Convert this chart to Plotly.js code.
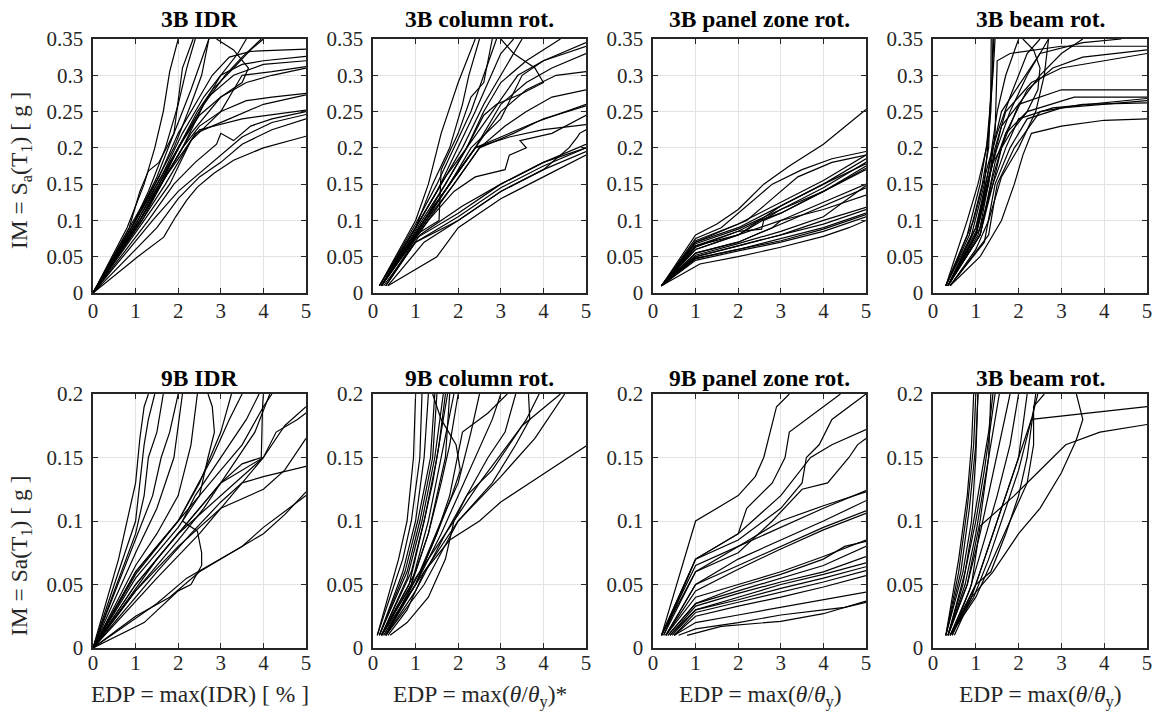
<!DOCTYPE html>
<html>
<head>
<meta charset="utf-8">
<script src="https://cdn.plot.ly/plotly-3.0.1.min.js"></script>
<style>
html,body{margin:0;padding:0;background:#fff;overflow:hidden;}
#plot{width:1157px;height:722px;}
</style>
</head>
<body>
<div id="plot"></div>
<script>
// ---------- DATA ----------
const panelTitles = ["3B IDR","3B column rot.","3B panel zone rot.","3B beam rot.",
                     "9B IDR","9B column rot.","9B panel zone rot.","3B beam rot."];
const xLabels = ["EDP = max(IDR) [ % ]",
                 "EDP = max(<i>θ</i>/<i>θ</i><sub>y</sub>)*",
                 "EDP = max(<i>θ</i>/<i>θ</i><sub>y</sub>)",
                 "EDP = max(<i>θ</i>/<i>θ</i><sub>y</sub>)"];
const yLabels = ["IM = S<sub>a</sub>(T<sub>1</sub>) [ g ]", "IM = Sa(T<sub>1</sub>) [ g ]"];
const xTickVals = [0,1,2,3,4,5];
const yRangeTop = [0,0.35];
const yRangeBottom = [0,0.2];

// 3B IDR  (each curve: [EDP, IM] points)
const idr3B = [
 [[0,0],[0.8,0.09],[1.2,0.15],[1.45,0.2],[1.65,0.25],[1.8,0.305],[2.0,0.35]],
 [[0,0],[0.85,0.09],[1.1,0.14],[1.3,0.168],[1.55,0.18],[1.9,0.22],[2.1,0.31],[2.35,0.35]],
 [[0,0],[0.9,0.09],[1.3,0.14],[1.7,0.2],[2.0,0.26],[2.2,0.31],[2.4,0.35]],
 [[0,0],[1.0,0.1],[1.5,0.16],[1.9,0.22],[2.3,0.28],[2.6,0.33],[2.72,0.35]],
 [[0,0],[0.95,0.1],[1.45,0.15],[1.9,0.2],[2.3,0.26],[2.55,0.3],[2.72,0.35]],
 [[0,0],[1.1,0.1],[1.6,0.15],[2.0,0.2],[2.5,0.245],[3.0,0.27],[3.5,0.29],[3.65,0.31],[3.3,0.335],[2.9,0.35]],
 [[0,0],[1.05,0.1],[1.55,0.15],[2.0,0.2],[2.5,0.25],[3.0,0.3],[3.4,0.33],[3.6,0.35]],
 [[0,0],[1.1,0.1],[1.6,0.15],[2.1,0.2],[2.6,0.26],[3.1,0.3],[3.5,0.325],[3.95,0.35]],
 [[0,0],[1.0,0.1],[1.5,0.15],[2.0,0.2],[2.45,0.25],[2.8,0.28],[3.3,0.31],[3.7,0.335],[4.0,0.35]],
 [[0,0],[1.0,0.1],[1.55,0.16],[2.0,0.22],[2.5,0.27],[2.8,0.3],[3.2,0.325],[3.7,0.333],[5,0.336]],
 [[0,0],[1.05,0.1],[1.6,0.16],[2.1,0.22],[2.6,0.27],[3.0,0.3],[3.5,0.315],[4.0,0.32],[5,0.326]],
 [[0,0],[1.1,0.1],[1.65,0.16],[2.2,0.22],[2.7,0.27],[3.3,0.3],[4.0,0.315],[5,0.32]],
 [[0,0],[1.1,0.1],[1.7,0.16],[2.3,0.22],[3.0,0.27],[3.6,0.29],[4.2,0.3],[5,0.31]],
 [[0,0],[1.15,0.1],[1.7,0.16],[2.3,0.21],[3.0,0.25],[3.5,0.3],[4.2,0.305],[5,0.312]],
 [[0,0],[1.1,0.1],[1.6,0.15],[2.1,0.2],[2.5,0.23],[3.0,0.25],[3.6,0.265],[4.2,0.27],[5,0.275]],
 [[0,0],[1.15,0.1],[1.7,0.15],[2.2,0.2],[2.4,0.22],[3.2,0.24],[4.0,0.26],[5,0.273]],
 [[0,0],[1.2,0.1],[1.8,0.15],[2.3,0.21],[2.5,0.225],[3.5,0.24],[5,0.252]],
 [[0,0],[1.3,0.1],[1.9,0.15],[2.4,0.18],[2.9,0.205],[3.0,0.22],[3.3,0.21],[3.7,0.23],[4.2,0.24],[5,0.25]],
 [[0,0],[1.4,0.1],[2.0,0.14],[2.5,0.165],[3.0,0.19],[3.5,0.215],[4.2,0.235],[5,0.246]],
 [[0,0],[1.5,0.09],[2.0,0.13],[2.5,0.16],[3.0,0.18],[3.5,0.205],[4.2,0.225],[5,0.24]],
 [[0,0],[1.05,0.05],[1.66,0.077],[1.94,0.105],[2.2,0.128],[2.45,0.146],[2.84,0.165],[3.3,0.183],[4.0,0.2],[5,0.216]]
];

// 3B column rotation
const col3B = [
 [[0.15,0.01],[1.0,0.1],[1.3,0.15],[1.6,0.22],[2.0,0.29],[2.4,0.35]],
 [[0.15,0.01],[1.0,0.09],[1.4,0.15],[1.8,0.2],[2.1,0.26],[2.25,0.3],[2.45,0.34],[2.5,0.35]],
 [[0.15,0.01],[1.0,0.095],[1.5,0.15],[1.9,0.2],[2.3,0.25],[2.6,0.3],[2.9,0.35]],
 [[0.15,0.01],[1.0,0.09],[1.5,0.14],[2.0,0.2],[2.4,0.25],[2.7,0.29],[3.0,0.33],[3.3,0.35]],
 [[0.2,0.01],[1.1,0.1],[1.6,0.15],[2.1,0.2],[2.6,0.26],[3.0,0.3],[3.3,0.33],[3.5,0.35]],
 [[0.2,0.01],[1.1,0.1],[1.7,0.16],[2.2,0.2],[2.6,0.245],[2.9,0.26],[3.5,0.275],[4.0,0.29],[3.8,0.31],[3.3,0.33],[3.0,0.35]],
 [[0.2,0.01],[1.2,0.1],[1.7,0.15],[2.2,0.2],[2.6,0.25],[3.0,0.29],[3.6,0.32],[4.4,0.35]],
 [[0.2,0.01],[1.2,0.1],[1.8,0.15],[2.3,0.2],[3.0,0.24],[3.5,0.3],[4.0,0.32],[5,0.345]],
 [[0.2,0.01],[1.15,0.1],[1.7,0.15],[2.2,0.2],[2.8,0.25],[3.4,0.3],[4.0,0.32],[5,0.34]],
 [[0.2,0.01],[1.2,0.1],[1.8,0.15],[2.4,0.2],[3.0,0.26],[3.6,0.29],[4.2,0.31],[5,0.33]],
 [[0.2,0.01],[1.2,0.1],[1.8,0.15],[2.4,0.2],[3.0,0.25],[3.6,0.28],[4.3,0.3],[5,0.305]],
 [[0.2,0.01],[1.25,0.1],[1.9,0.15],[2.5,0.2],[3.1,0.23],[3.6,0.25],[4.2,0.27],[5,0.28]],
 [[0.2,0.01],[1.3,0.1],[1.9,0.15],[2.5,0.2],[3.3,0.22],[4.0,0.24],[5,0.258]],
 [[0.2,0.01],[1.2,0.1],[1.8,0.15],[2.4,0.2],[3.0,0.215],[3.8,0.235],[5,0.26]],
 [[0.2,0.01],[1.25,0.1],[1.9,0.16],[2.4,0.2],[3.2,0.215],[4.0,0.225],[5,0.232]],
 [[0.2,0.01],[1.3,0.1],[1.9,0.14],[2.4,0.16],[3.1,0.17],[3.2,0.19],[3.6,0.2],[3.45,0.21],[4.2,0.22],[5,0.245]],
 [[0.25,0.01],[1.0,0.07],[2.0,0.1],[3.0,0.14],[4.0,0.17],[4.6,0.2],[4.8,0.215],[4.85,0.22],[5,0.225]],
 [[0.3,0.01],[1.0,0.075],[2.0,0.11],[3.0,0.15],[4.0,0.18],[5,0.205]],
 [[0.3,0.01],[1.0,0.07],[2.0,0.105],[3.0,0.145],[4.0,0.175],[5,0.2]],
 [[0.35,0.01],[1.2,0.07],[2.0,0.1],[3.0,0.14],[4.0,0.17],[5,0.195]],
 [[0.35,0.01],[1.5,0.05],[2.0,0.09],[3.0,0.13],[4.0,0.16],[5,0.19]],
 [[0.3,0.01],[1.1,0.08],[2.1,0.12],[3.0,0.15],[4.0,0.18],[5,0.2]],
 [[0.2,0.01],[1.0,0.08],[1.55,0.1],[1.6,0.17],[2.0,0.22],[2.3,0.27],[2.6,0.29],[2.8,0.35]]
];

// 3B panel zone rotation
const pz3B = [
 [[0.2,0.01],[1.0,0.08],[1.5,0.095],[2.0,0.115],[2.6,0.15],[3.2,0.175],[4.0,0.205],[5,0.253]],
 [[0.2,0.01],[1.0,0.075],[1.6,0.09],[2.2,0.12],[2.8,0.15],[3.5,0.17],[4.2,0.185],[5,0.195]],
 [[0.2,0.01],[1.0,0.07],[1.6,0.085],[2.2,0.1],[2.8,0.13],[3.4,0.16],[4.2,0.18],[5,0.19]],
 [[0.2,0.01],[1.0,0.07],[2.0,0.09],[3.0,0.12],[4.0,0.15],[5,0.185]],
 [[0.2,0.01],[1.0,0.068],[2.0,0.088],[3.0,0.115],[4.0,0.145],[5,0.18]],
 [[0.2,0.01],[1.0,0.065],[2.0,0.085],[2.5,0.1],[3.0,0.12],[4.0,0.15],[5,0.178]],
 [[0.2,0.01],[1.0,0.065],[2.0,0.08],[3.0,0.115],[4.0,0.14],[5,0.175]],
 [[0.2,0.01],[1.0,0.06],[2.0,0.08],[2.5,0.1],[3.0,0.11],[4.0,0.14],[5,0.172]],
 [[0.2,0.01],[1.0,0.063],[2.0,0.085],[2.55,0.088],[2.6,0.1],[3.0,0.11],[4.0,0.14],[5,0.17]],
 [[0.2,0.01],[1.0,0.072],[2.0,0.095],[3.0,0.125],[4.0,0.155],[5,0.19]],
 [[0.2,0.01],[1.0,0.06],[2.0,0.08],[3.0,0.1],[4.0,0.125],[5,0.15]],
 [[0.2,0.01],[1.0,0.055],[2.0,0.07],[3.0,0.095],[4.0,0.12],[5,0.145]],
 [[0.2,0.01],[1.0,0.055],[2.0,0.07],[2.8,0.09],[3.0,0.1],[4.0,0.115],[5,0.135]],
 [[0.2,0.01],[1.0,0.052],[2.0,0.068],[3.0,0.085],[4.0,0.105],[5,0.148]],
 [[0.2,0.01],[1.0,0.05],[2.0,0.065],[3.0,0.08],[4.0,0.1],[5,0.118]],
 [[0.2,0.01],[1.0,0.05],[2.0,0.065],[3.0,0.08],[4.0,0.095],[5,0.115]],
 [[0.2,0.01],[1.0,0.048],[2.0,0.06],[3.0,0.075],[4.0,0.09],[5,0.11]],
 [[0.2,0.01],[1.0,0.047],[2.0,0.06],[3.0,0.072],[4.0,0.088],[5,0.108]],
 [[0.2,0.01],[1.0,0.045],[2.0,0.058],[3.0,0.07],[4.0,0.085],[5,0.105]],
 [[0.2,0.01],[1.1,0.04],[2.0,0.05],[3.0,0.063],[4.0,0.078],[4.6,0.09],[5,0.1]]
];

// 3B beam rotation
const beam3B = [
 [[0.3,0.01],[0.8,0.08],[1.1,0.15],[1.3,0.22],[1.38,0.3],[1.4,0.35]],
 [[0.3,0.01],[0.85,0.08],[1.15,0.15],[1.3,0.2],[1.35,0.28],[1.36,0.35]],
 [[0.3,0.01],[0.9,0.08],[1.2,0.15],[1.35,0.25],[1.42,0.35]],
 [[0.3,0.01],[0.8,0.1],[1.05,0.15],[1.25,0.2],[1.4,0.3],[1.45,0.35]],
 [[0.35,0.01],[1.0,0.08],[1.3,0.15],[1.45,0.22],[1.5,0.32],[1.8,0.33],[3.0,0.34],[5,0.34]],
 [[0.35,0.01],[1.0,0.09],[1.3,0.17],[1.5,0.25],[1.7,0.3],[2.0,0.35]],
 [[0.3,0.01],[0.95,0.1],[1.3,0.18],[1.5,0.22],[1.8,0.27],[2.2,0.33],[2.5,0.35]],
 [[0.35,0.01],[1.0,0.09],[1.4,0.18],[1.8,0.22],[2.2,0.25],[2.45,0.28],[2.5,0.31],[2.35,0.335],[2.1,0.35]],
 [[0.35,0.01],[1.0,0.08],[1.3,0.16],[1.5,0.2],[1.8,0.25],[2.2,0.3],[2.4,0.32],[2.7,0.35]],
 [[0.35,0.01],[1.05,0.08],[1.4,0.15],[1.6,0.2],[2.0,0.26],[2.5,0.3],[3.0,0.33],[3.5,0.35]],
 [[0.35,0.01],[1.0,0.08],[1.4,0.2],[1.6,0.25],[2.5,0.33],[3.5,0.345],[4.4,0.35]],
 [[0.35,0.01],[1.1,0.08],[1.4,0.16],[1.7,0.22],[2.2,0.28],[2.8,0.31],[3.5,0.325],[5,0.335]],
 [[0.35,0.01],[1.1,0.09],[1.45,0.2],[1.7,0.25],[2.3,0.29],[3.0,0.31],[4.0,0.32],[5,0.33]],
 [[0.35,0.01],[1.05,0.09],[1.4,0.18],[1.6,0.23],[2.0,0.26],[3.0,0.28],[5,0.28]],
 [[0.35,0.01],[1.1,0.08],[1.45,0.18],[1.7,0.22],[2.2,0.25],[3.3,0.27],[5,0.27]],
 [[0.35,0.01],[1.1,0.08],[1.4,0.15],[1.7,0.2],[2.0,0.24],[2.8,0.255],[5,0.268]],
 [[0.4,0.01],[1.2,0.07],[1.45,0.15],[1.8,0.2],[2.2,0.24],[3.0,0.255],[5,0.265]],
 [[0.4,0.01],[1.3,0.08],[1.5,0.15],[1.9,0.2],[2.5,0.25],[3.5,0.26],[5,0.262]],
 [[0.4,0.01],[1.1,0.05],[1.4,0.08],[1.6,0.1],[1.9,0.15],[2.1,0.19],[2.3,0.22],[3.0,0.23],[4.0,0.238],[5,0.24]],
 [[0.4,0.01],[1.0,0.06],[1.3,0.1],[1.6,0.16],[2.0,0.2],[2.4,0.25],[2.6,0.3],[2.7,0.35]]
];

// 9B IDR
const idr9B = [
 [[0,0],[0.6,0.07],[1.0,0.13],[1.1,0.165],[1.2,0.19],[1.3,0.2]],
 [[0,0],[1.0,0.1],[1.1,0.13],[1.2,0.16],[1.3,0.18],[1.45,0.2]],
 [[0,0],[1.0,0.09],[1.2,0.12],[1.3,0.15],[1.5,0.17],[1.65,0.2]],
 [[0,0],[1.0,0.085],[1.4,0.12],[1.6,0.15],[1.8,0.17],[2.0,0.2]],
 [[0,0],[1.0,0.075],[1.5,0.11],[1.9,0.15],[2.1,0.2]],
 [[0,0],[1.0,0.065],[1.5,0.09],[2.0,0.12],[2.3,0.16],[2.45,0.2]],
 [[0,0],[1.0,0.06],[2.0,0.1],[2.5,0.12],[2.7,0.15],[2.85,0.17],[2.8,0.19],[2.7,0.2]],
 [[0,0],[1.0,0.06],[2.0,0.1],[2.5,0.13],[3.0,0.17],[3.25,0.2]],
 [[0,0],[1.0,0.058],[2.0,0.1],[2.8,0.15],[3.2,0.18],[3.5,0.2]],
 [[0,0],[1.0,0.055],[2.0,0.095],[2.5,0.12],[3.0,0.14],[3.5,0.16],[4.0,0.19],[4.2,0.2]],
 [[0,0],[1.0,0.05],[2.0,0.09],[3.0,0.13],[3.8,0.17],[4.15,0.2]],
 [[0,0],[1.2,0.02],[2.0,0.045],[2.3,0.05],[2.55,0.065],[2.55,0.075],[2.45,0.092],[2.1,0.1],[2.4,0.12],[3.0,0.15],[3.6,0.18],[3.9,0.2]],
 [[0,0],[1.5,0.07],[2.5,0.11],[3.0,0.13],[3.5,0.145],[3.95,0.15],[3.98,0.19],[4.0,0.2]],
 [[0,0],[1.0,0.05],[2.0,0.09],[3.0,0.12],[4.0,0.15],[4.3,0.17],[4.8,0.18],[5,0.185]],
 [[0,0],[1.0,0.045],[2.0,0.08],[3.0,0.11],[4.0,0.15],[4.5,0.175],[5,0.19]],
 [[0,0],[1.5,0.055],[2.5,0.09],[3.0,0.11],[4.0,0.125],[4.5,0.14],[5,0.165]],
 [[0,0],[1.5,0.06],[2.3,0.09],[3.0,0.115],[3.5,0.13],[4.0,0.135],[5,0.143]],
 [[0,0],[1.0,0.025],[1.8,0.04],[2.5,0.06],[3.0,0.07],[4.0,0.09],[4.5,0.105],[5,0.123]],
 [[0,0],[1.5,0.035],[2.2,0.055],[3.0,0.07],[3.5,0.08],[4.0,0.095],[4.6,0.11],[5,0.12]],
 [[0,0],[1.0,0.045],[2.0,0.085],[2.6,0.11],[3.0,0.13],[3.5,0.14],[4.0,0.15]]
];

// 9B column rotation
const col9B = [
 [[0.1,0.01],[0.6,0.07],[0.8,0.1],[0.95,0.15],[1.0,0.2]],
 [[0.1,0.01],[0.7,0.07],[0.9,0.1],[1.1,0.15],[1.15,0.2]],
 [[0.15,0.01],[0.7,0.06],[1.0,0.1],[1.2,0.15],[1.3,0.2]],
 [[0.15,0.01],[0.75,0.06],[1.05,0.1],[1.35,0.15],[1.45,0.2]],
 [[0.15,0.01],[0.8,0.06],[1.1,0.1],[1.4,0.15],[1.5,0.2]],
 [[0.2,0.01],[0.8,0.055],[1.15,0.1],[1.45,0.15],[1.65,0.2]],
 [[0.2,0.01],[0.85,0.05],[1.2,0.1],[1.5,0.15],[1.75,0.2]],
 [[0.2,0.01],[0.9,0.05],[1.3,0.1],[1.6,0.15],[1.9,0.2]],
 [[0.2,0.01],[1.0,0.05],[1.5,0.09],[1.85,0.12],[2.05,0.14],[1.95,0.16],[1.6,0.18],[1.4,0.2]],
 [[0.2,0.01],[0.9,0.05],[1.3,0.09],[1.6,0.13],[1.8,0.16],[2.0,0.2]],
 [[0.25,0.01],[1.0,0.05],[1.5,0.09],[1.8,0.12],[2.1,0.17],[2.7,0.185],[3.15,0.2]],
 [[0.25,0.01],[1.0,0.05],[1.6,0.09],[2.0,0.12],[2.4,0.15],[2.8,0.18],[3.0,0.2]],
 [[0.3,0.01],[1.0,0.045],[1.7,0.09],[2.2,0.12],[2.7,0.15],[3.1,0.17],[3.35,0.2]],
 [[0.3,0.01],[1.2,0.05],[2.0,0.1],[2.8,0.13],[3.35,0.16],[3.68,0.18],[3.65,0.2]],
 [[0.3,0.01],[1.0,0.05],[2.0,0.1],[3.0,0.135],[3.8,0.165],[4.5,0.2]],
 [[0.3,0.01],[1.0,0.055],[1.7,0.09],[2.5,0.13],[3.5,0.175],[4.4,0.2]],
 [[0.35,0.01],[0.8,0.03],[1.2,0.06],[1.8,0.085],[2.5,0.1],[3.0,0.115],[4.0,0.137],[5,0.159]],
 [[0.4,0.01],[0.8,0.02],[1.3,0.04],[1.7,0.07],[1.9,0.1],[2.2,0.12],[2.8,0.14],[3.2,0.16],[3.6,0.18],[3.9,0.2]],
 [[0.2,0.01],[1.0,0.06],[1.3,0.09],[1.5,0.12],[1.7,0.15],[1.8,0.2]],
 [[0.2,0.01],[0.9,0.06],[1.2,0.1],[1.4,0.13],[1.55,0.16],[1.7,0.2]],
 [[0.3,0.01],[1.1,0.06],[1.6,0.1],[2.0,0.13],[2.3,0.17],[2.5,0.2]]
];

// 9B panel zone rotation
const pz9B = [
 [[0.2,0.01],[1.0,0.1],[2.0,0.12],[2.4,0.135],[2.6,0.15],[2.9,0.19],[3.2,0.2]],
 [[0.2,0.01],[1.0,0.07],[2.0,0.09],[2.2,0.11],[2.8,0.13],[3.1,0.15],[3.2,0.17],[3.6,0.18],[4.0,0.19],[4.4,0.2]],
 [[0.2,0.01],[1.0,0.07],[2.0,0.085],[3.0,0.11],[3.5,0.13],[3.6,0.15],[3.9,0.16],[4.2,0.18],[5,0.2]],
 [[0.2,0.01],[1.0,0.06],[2.0,0.075],[2.8,0.1],[3.5,0.125],[4.1,0.13],[4.6,0.15],[4.8,0.16],[5,0.165]],
 [[0.25,0.01],[1.0,0.07],[2.0,0.09],[3.0,0.12],[3.7,0.15],[4.2,0.16],[5,0.172]],
 [[0.25,0.01],[1.0,0.06],[2.0,0.08],[3.0,0.1],[4.0,0.112],[5,0.123]],
 [[0.3,0.01],[1.0,0.05],[2.0,0.07],[3.0,0.085],[4.0,0.1],[5,0.116]],
 [[0.3,0.01],[1.0,0.05],[2.0,0.065],[3.0,0.08],[4.0,0.095],[5,0.108]],
 [[0.3,0.01],[1.0,0.045],[2.0,0.062],[3.0,0.078],[4.0,0.093],[5,0.106]],
 [[0.3,0.01],[1.0,0.04],[2.0,0.05],[3.0,0.06],[4.0,0.072],[5,0.085]],
 [[0.35,0.01],[1.0,0.035],[2.0,0.048],[3.0,0.058],[4.0,0.07],[4.5,0.08],[5,0.084]],
 [[0.35,0.01],[1.0,0.035],[2.0,0.045],[3.0,0.055],[4.0,0.065],[5,0.08]],
 [[0.4,0.01],[1.0,0.033],[2.0,0.043],[3.0,0.052],[4.0,0.06],[5,0.072]],
 [[0.4,0.01],[1.0,0.03],[2.0,0.04],[3.0,0.05],[4.0,0.058],[5,0.067]],
 [[0.45,0.01],[1.0,0.03],[2.0,0.038],[3.0,0.047],[4.0,0.055],[5,0.064]],
 [[0.5,0.01],[1.0,0.028],[2.0,0.036],[3.0,0.044],[4.0,0.052],[5,0.061]],
 [[0.5,0.01],[1.0,0.025],[2.0,0.033],[3.0,0.04],[4.0,0.048],[5,0.057]],
 [[0.5,0.01],[1.0,0.02],[2.0,0.026],[3.0,0.032],[4.0,0.038],[5,0.044]],
 [[0.6,0.01],[1.0,0.015],[2.0,0.02],[3.0,0.026],[4.0,0.03],[4.5,0.032],[5,0.036]],
 [[0.8,0.01],[1.6,0.017],[3.0,0.021],[4.0,0.027],[5,0.037]],
 [[0.2,0.01],[1.0,0.065],[2.0,0.08],[3.0,0.095],[4.0,0.11],[5,0.124]]
];

// bottom-right panel beam rotation
const beam9B = [
 [[0.3,0.01],[0.6,0.07],[0.8,0.12],[0.9,0.16],[0.95,0.2]],
 [[0.3,0.01],[0.6,0.06],[0.8,0.11],[0.95,0.16],[1.0,0.2]],
 [[0.3,0.01],[0.65,0.06],[0.85,0.11],[1.0,0.16],[1.05,0.2]],
 [[0.3,0.01],[0.7,0.06],[0.9,0.1],[1.0,0.15],[1.05,0.2]],
 [[0.35,0.01],[0.7,0.05],[0.9,0.09],[1.1,0.13],[1.3,0.17],[1.4,0.2]],
 [[0.35,0.01],[0.75,0.05],[1.0,0.09],[1.2,0.13],[1.4,0.17],[1.55,0.2]],
 [[0.35,0.01],[0.8,0.05],[1.1,0.09],[1.35,0.13],[1.6,0.17],[1.8,0.2]],
 [[0.4,0.01],[0.85,0.045],[1.2,0.085],[1.5,0.12],[1.8,0.16],[2.0,0.2]],
 [[0.35,0.01],[0.8,0.05],[1.1,0.1],[1.3,0.15],[1.35,0.2]],
 [[0.4,0.01],[0.9,0.04],[1.2,0.07],[1.5,0.1],[1.7,0.12],[2.0,0.15],[2.2,0.2]],
 [[0.4,0.01],[0.95,0.04],[1.3,0.07],[1.6,0.1],[2.0,0.14],[2.3,0.18],[2.45,0.2]],
 [[0.4,0.01],[1.0,0.04],[1.4,0.07],[1.8,0.1],[2.2,0.13],[2.35,0.16],[2.35,0.19],[2.6,0.2]],
 [[0.4,0.01],[1.0,0.05],[1.4,0.09],[1.8,0.13],[2.1,0.16],[2.3,0.18],[5,0.19]],
 [[0.45,0.01],[0.9,0.05],[1.1,0.096],[1.9,0.12],[2.5,0.14],[3.1,0.16],[3.9,0.17],[5,0.176]],
 [[0.5,0.01],[0.9,0.04],[1.4,0.06],[2.0,0.09],[2.5,0.11],[3.0,0.138],[3.35,0.164],[3.5,0.18],[3.35,0.2]],
 [[0.45,0.01],[1.0,0.05],[1.35,0.06],[1.7,0.09],[2.0,0.12],[2.2,0.15],[2.4,0.2]],
 [[0.35,0.01],[0.75,0.06],[1.0,0.1],[1.2,0.14],[1.45,0.2]]
];

// ---------- PLOT ----------
const panels = [idr3B, col3B, pz3B, beam3B, idr9B, col9B, pz9B, beam9B];
const W = 1157, H = 722;
const xPix = [[93,306],[373,586],[653,866],[933,1147]];
const yPix = [[39,293],[394,648]];
const FONT = 'Liberation Serif';

const traces = [];
const layout = {
  width: W, height: H,
  margin: {l:0, r:0, t:0, b:0},
  showlegend: false,
  paper_bgcolor: '#ffffff', plot_bgcolor: '#ffffff',
  font: {family: FONT, color: '#262626', size: 21},
  hovermode: false,
  annotations: []
};

panels.forEach((curves, i) => {
  const row = i < 4 ? 0 : 1, col = i % 4;
  const sfx = i === 0 ? '' : String(i + 1);
  curves.forEach(c => {
    traces.push({
      type: 'scatter', mode: 'lines',
      x: c.map(p => p[0]), y: c.map(p => p[1]),
      xaxis: 'x' + sfx, yaxis: 'y' + sfx,
      line: {color: '#000000', width: 1.2},
      hoverinfo: 'skip'
    });
  });
  const axCommon = {
    showgrid: true, gridcolor: '#e3e3e3', gridwidth: 1,
    zeroline: false, showline: true, linecolor: '#262626', linewidth: 1.6,
    mirror: 'ticks', ticks: 'inside', ticklen: 5, tickwidth: 1, tickcolor: '#262626',
    tickfont: {family: FONT, size: 21, color: '#262626'},
    fixedrange: true
  };
  layout['xaxis' + sfx] = Object.assign({}, axCommon, {
    domain: [xPix[col][0] / W, xPix[col][1] / W],
    range: [0, 5], tickvals: xTickVals, ticktext: xTickVals.map(String),
    anchor: 'y' + sfx, ticklabelstandoff: row === 0 ? -2 : -5
  });
  layout['yaxis' + sfx] = Object.assign({}, axCommon, {
    domain: [1 - yPix[row][1] / H, 1 - yPix[row][0] / H],
    range: row === 0 ? yRangeTop : yRangeBottom,
    dtick: 0.05, tick0: 0,
    anchor: 'x' + sfx, ticklabelstandoff: 4
  });
  layout.annotations.push({
    xref: 'paper', yref: 'paper',
    x: (xPix[col][0] + xPix[col][1]) / 2 / W,
    y: 1 - (row === 0 ? 19 : 378) / H,
    text: '<b>' + panelTitles[i] + '</b>', showarrow: false,
    xanchor: 'center', yanchor: 'middle',
    font: {size: 23.5, color: '#000000', family: FONT}
  });
  if (row === 1) {
    layout.annotations.push({
      xref: 'paper', yref: 'paper',
      x: (xPix[col][0] + xPix[col][1]) / 2 / W,
      y: 1 - 679 / H,
      text: xLabels[col], showarrow: false,
      xanchor: 'center', yanchor: 'top',
      font: {size: 23.5, color: '#262626', family: FONT}
    });
  }
});

layout.annotations.push({
  xref: 'paper', yref: 'paper', x: 21 / W, y: 1 - 171 / H,
  text: yLabels[0], textangle: -90, showarrow: false,
  xanchor: 'center', yanchor: 'middle', font: {size: 23.5, color: '#262626', family: FONT}
});
layout.annotations.push({
  xref: 'paper', yref: 'paper', x: 21 / W, y: 1 - 556 / H,
  text: yLabels[1], textangle: -90, showarrow: false,
  xanchor: 'center', yanchor: 'middle', font: {size: 23.5, color: '#262626', family: FONT}
});

Plotly.newPlot('plot', traces, layout, {staticPlot: true, displayModeBar: false});
</script>
</body>
</html>
